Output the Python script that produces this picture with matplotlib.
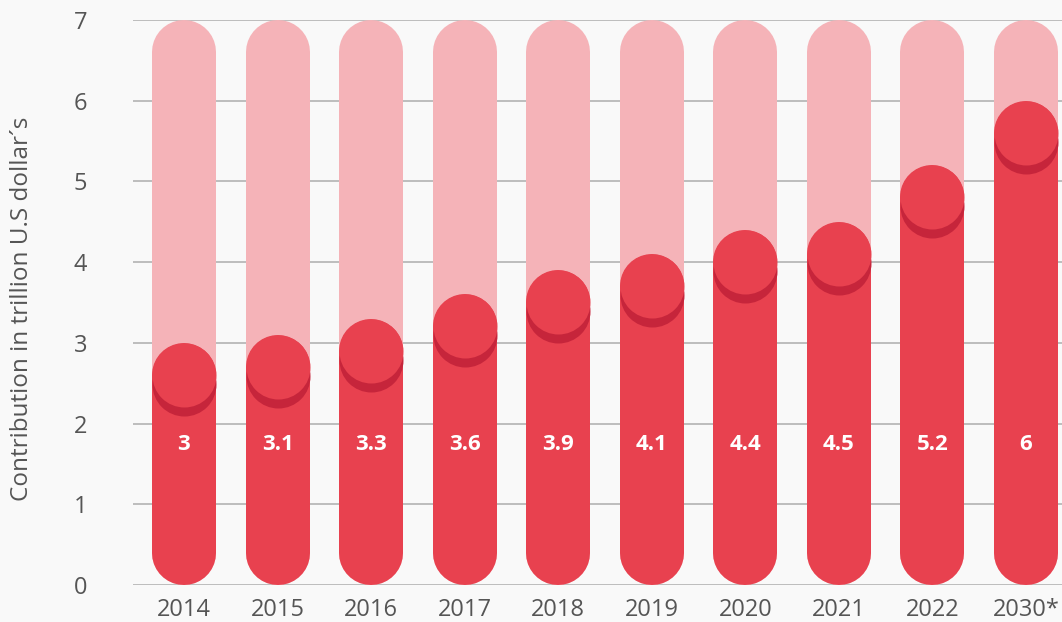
import numpy as np
import matplotlib.pyplot as plt

plt.rcParams['font.family'] = ['Open Sans', 'DejaVu Sans']

years = ['2014', '2015', '2016', '2017', '2018', '2019', '2020', '2021', '2022', '2030*']
values = [3, 3.1, 3.3, 3.6, 3.9, 4.1, 4.4, 4.5, 5.2, 6]
labels = ['3', '3.1', '3.3', '3.6', '3.9', '4.1', '4.4', '4.5', '5.2', '6']
ymax = 7

red = '#E8414F'
pink = '#F5B3B8'
shadow = '#C6253B'
bg = '#F9F9F9'

fig = plt.figure(figsize=(10.62, 6.22), dpi=100, facecolor=bg)
ax = fig.add_axes([133/1062, 37/622, 929/1062, 565/622], facecolor=bg)
ax.set_xlim(-0.545, 9.385)
ax.set_ylim(0, ymax)

# bar width in pixels -> points, radius in data units
bar_px = 64
bar_pt = bar_px * 72 / fig.dpi
px_per_unit = 565 / ymax
r = bar_px / 2 / px_per_unit
shadow_off = 9 / px_per_unit

x = np.arange(len(years))
for xi, v, lab in zip(x, values, labels):
    ax.plot([xi, xi], [r, ymax - r], color=pink, lw=bar_pt,
            solid_capstyle='round', zorder=2, clip_on=False)
    ax.plot([xi, xi], [r, v - r], color=red, lw=bar_pt,
            solid_capstyle='round', zorder=3, clip_on=False)
    ax.plot(xi, v - r - shadow_off, 'o', ms=bar_pt, mew=0, color=shadow,
            zorder=4, clip_on=False)
    ax.plot(xi, v - r, 'o', ms=bar_pt, mew=0, color=red, zorder=5, clip_on=False)
    ax.text(xi, 1.74, lab, ha='center', va='center', color='white',
            fontsize=16, fontweight='bold', zorder=6)

ax.set_yticks(range(0, ymax + 1))
ax.grid(axis='y', color='#B3B3B3', lw=1.2, zorder=1)
ax.set_axisbelow(True)
ax.set_xticks(x)
ax.set_xticklabels(years)
for s in ax.spines.values():
    s.set_visible(False)
ax.tick_params(axis='y', length=0, pad=33, labelsize=17, labelcolor='#555555')
ax.tick_params(axis='x', length=0, pad=9, labelsize=17, labelcolor='#555555')
ax.set_ylabel('Contribution in trillion U.S dollar´s', fontsize=17.5, color='#555555')
ax.yaxis.set_label_coords(-99/929, 0.488)

fig.savefig('out.png', dpi=100, facecolor=bg)
